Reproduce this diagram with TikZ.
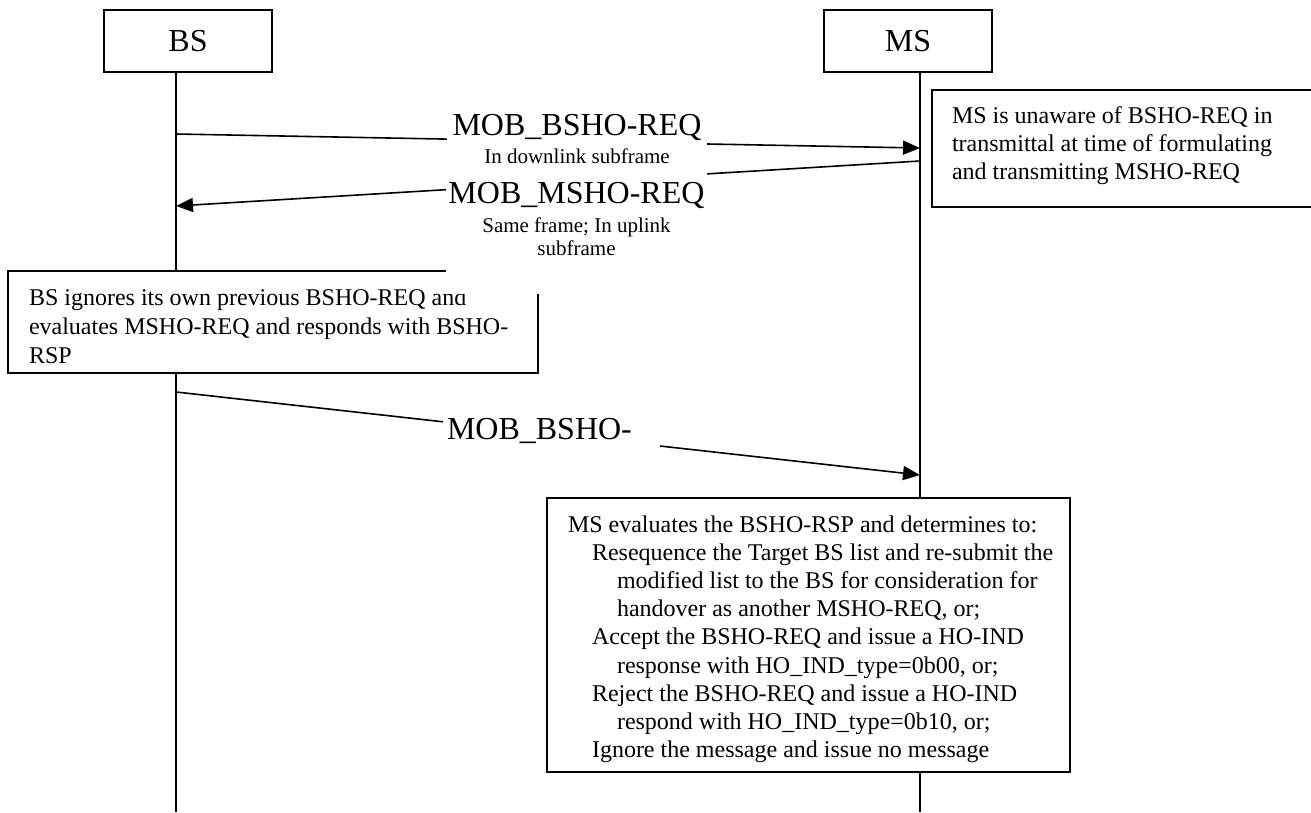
\documentclass[tikz,border=0pt]{standalone}
\usepackage{fontspec}
\setmainfont{Liberation Serif}
\usetikzlibrary{arrows.meta}
\begin{document}
\begin{tikzpicture}[x=1pt,y=-1pt,
  every node/.style={inner sep=0pt, outer sep=0pt},
  box/.style={draw, line width=1.6pt, fill=white, rectangle},
  life/.style={line width=1.6pt},
  msg/.style={line width=1.6pt, -{Triangle[length=17pt,width=14pt]}},
  big/.style={font=\fontsize{32}{36.8}\selectfont},
  txt/.style={font=\fontsize{24}{27.6}\selectfont},
  small/.style={font=\fontsize{21}{23}\selectfont},
  cover/.style={fill=white, draw=none, rectangle},
]
\clip (0,0) rectangle (1311,812);
\fill[white] (0,0) rectangle (1311,812);

% actors
\node[box, minimum width=168pt, minimum height=62pt, big] (bs) at (188,41) {BS};
\node[box, minimum width=168pt, minimum height=62pt, big] (ms) at (908,41) {MS};

% lifelines
\coordinate (bsend) at (176,812);
\coordinate (msend) at (920,812);
\draw[life] (bs.south -| bsend) -- (bsend);
\draw[life] (ms.south -| msend) -- (msend);

% message end points
\coordinate (a1s) at (176,134);
\coordinate (a1e) at (920,148);
\coordinate (a2s) at (920,161);
\coordinate (a2e) at (176,206);
\coordinate (a3s) at (176,392);
\coordinate (a3e) at (920,475);
\draw[msg] (a1s) -- (a1e);
\draw[msg] (a2s) -- (a2e);
\draw[msg] (a3s) -- (a3e);

% MS note
\node[box, minimum width=388pt, minimum height=117pt] (msnote) at (1126,148.5) {};
\node[txt, anchor=base west] (mn1) at (952,123) {MS is unaware of BSHO-REQ in};
\node[txt, anchor=base west] (mn2) at (952,151) {transmittal at time of formulating};
\node[txt, anchor=base west] (mn3) at (952,179) {and transmitting MSHO-REQ};

% BS note
\node[box, minimum width=530pt, minimum height=102pt] (bsnote) at (273,322) {};
\node[txt, anchor=base west] (bn1) at (29,305) {BS ignores its own previous BSHO-REQ and};
\node[txt, anchor=base west] (bn2) at (29,334) {evaluates MSHO-REQ and responds with BSHO-};
\node[txt, anchor=base west] (bn3) at (29,363) {RSP};

% MS evaluation box
\node[box, minimum width=523pt, minimum height=274pt] (evbox) at (808.5,635) {};
\foreach \x/\t [count=\i] in {
  568/{MS evaluates the BSHO-RSP and determines to:},
  592/{Resequence the Target BS list and re-submit the},
  617/{modified list to the BS for consideration for},
  617/{handover as another MSHO-REQ, or;},
  592/{Accept the BSHO-REQ and issue a HO-IND},
  617/{response with HO\_IND\_type=0b00, or;},
  592/{Reject the BSHO-REQ and issue a HO-IND},
  617/{respond with HO\_IND\_type=0b10, or;},
  592/{Ignore the message and issue no message}}
  \node[txt, anchor=base west] (ev\i) at (\x,{532+28.2*(\i-1)}) {\t};

% message labels (white backgrounds)
\node[cover, minimum width=260pt, minimum height=65pt] (l1bg) at (577,137.5) {};
\node[big, anchor=base] (l1) at (577,135) {MOB\_BSHO-REQ};
\node[small, anchor=base] (l1b) at (577,163) {In downlink subframe};

\node[cover, minimum width=261pt, minimum height=123pt] (l2bg) at (576.5,232.5) {};
\node[big, anchor=base] (l2) at (576.5,203) {MOB\_MSHO-REQ};
\node[small, anchor=base] (l2b) at (576.5,232) {Same frame; In uplink};
\node[small, anchor=base] (l2c) at (576.5,255) {subframe};

\node[cover, minimum width=217pt, minimum height=40pt] (l3bg) at (551.5,432) {};
\node[big, anchor=base west] (l3) at (447,439) {MOB\_BSHO-};
\end{tikzpicture}
\end{document}
